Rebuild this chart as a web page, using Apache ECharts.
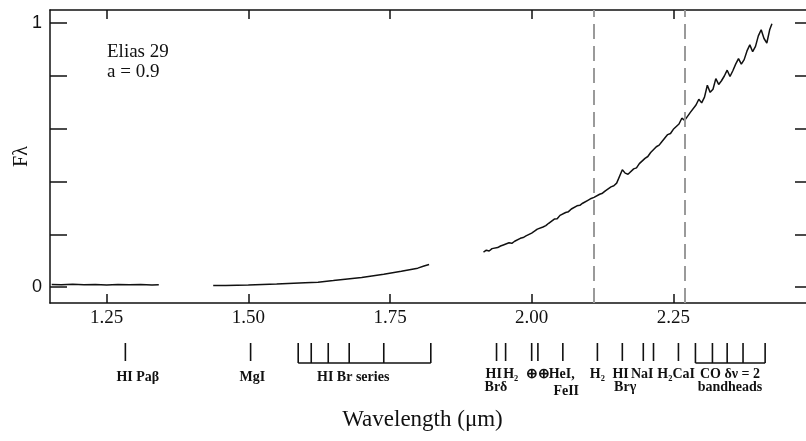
<!DOCTYPE html>
<html>
<head>
<meta charset="utf-8">
<script src="https://cdn.jsdelivr.net/npm/echarts@6/dist/echarts.min.js"></script>
<style>
html, body { margin: 0; padding: 0; background: #fff; }
#chart { width: 806px; height: 441px; }
</style>
</head>
<body>
<div id="chart"></div>
<script>
// spectrum, three pieces (gaps are the telluric bands)
var jWave = [1.153, 1.17, 1.19, 1.21, 1.23, 1.25, 1.27, 1.29, 1.31, 1.33, 1.342];
var jFlux = [0.010, 0.009, 0.011, 0.009, 0.010, 0.008, 0.010, 0.009, 0.010, 0.008, 0.009];

var hWave = [1.438, 1.46, 1.50, 1.55, 1.60, 1.623, 1.65, 1.70, 1.739, 1.77, 1.799, 1.81, 1.819];
var hFlux = [0.006, 0.006, 0.008, 0.012, 0.017, 0.019, 0.025, 0.037, 0.049, 0.060, 0.072, 0.080, 0.086];

var kWave = [1.915, 1.92, 1.925, 1.93, 1.94, 1.945, 1.95, 1.96, 1.965, 1.97, 1.98, 1.985, 1.99,
    2.00, 2.005, 2.01, 2.02, 2.025, 2.03, 2.04, 2.045, 2.05, 2.06, 2.065, 2.07, 2.08, 2.085,
    2.09, 2.10, 2.105, 2.11, 2.12, 2.125, 2.13, 2.14, 2.145, 2.15, 2.16, 2.165, 2.17, 2.18,
    2.185, 2.19, 2.20, 2.205, 2.21, 2.22, 2.225, 2.23, 2.24, 2.245, 2.25, 2.26, 2.265, 2.27,
    2.28, 2.29, 2.295, 2.30, 2.305, 2.31, 2.315, 2.32, 2.325, 2.33, 2.335, 2.34, 2.345, 2.35,
    2.355, 2.36, 2.365, 2.37, 2.375, 2.38, 2.385, 2.39, 2.395, 2.40, 2.405, 2.41, 2.415, 2.42, 2.424];
var kFlux = [0.133, 0.140, 0.137, 0.146, 0.150, 0.156, 0.160, 0.168, 0.166, 0.174, 0.185, 0.188,
    0.194, 0.205, 0.212, 0.220, 0.228, 0.233, 0.242, 0.258, 0.259, 0.272, 0.283, 0.286, 0.296,
    0.308, 0.310, 0.318, 0.330, 0.336, 0.340, 0.352, 0.356, 0.365, 0.380, 0.384, 0.394, 0.445,
    0.432, 0.428, 0.448, 0.452, 0.468, 0.488, 0.495, 0.510, 0.532, 0.538, 0.552, 0.578, 0.582,
    0.598, 0.618, 0.640, 0.632, 0.662, 0.690, 0.712, 0.698, 0.720, 0.765, 0.738, 0.750, 0.790,
    0.768, 0.782, 0.800, 0.822, 0.798, 0.820, 0.845, 0.866, 0.845, 0.862, 0.895, 0.918, 0.892,
    0.912, 0.952, 0.975, 0.942, 0.925, 0.975, 0.998];

var xTicks = [1.25, 1.50, 1.75, 2.00, 2.25];
var yTicks = [0, 0.2, 0.4, 0.6, 0.8, 1];
var yLabels = [0, 1];
var dashedLines = [2.114, 2.266];

// line identifications below the axis
var singleLines = [1.283, 1.504, 1.938, 1.954, 2.000, 2.011, 2.055, 2.116, 2.160, 2.197, 2.215, 2.259];
var brSeries = [1.588, 1.611, 1.641, 1.678, 1.739, 1.822];
var coBands = [2.289, 2.319, 2.345, 2.373, 2.412];
var lineNames = ['HI Paβ', 'MgI', 'HI Br series', 'HI', 'Brδ', 'H₂', '⊕⊕', 'HeI,', 'FeII',
    'H₂', 'HI', 'Brγ', 'NaI', 'H₂CaI', 'CO δν = 2', 'bandheads'];
var nameWave = [1.305, 1.507, 1.685, 1.933, 1.937, 1.963, 2.011, 2.053, 2.061,
    2.116, 2.157, 2.165, 2.195, 2.255, 2.350, 2.350];
var nameRow = [47, 47, 47, 44, 57, 44, 44, 44, 61, 44, 44, 57, 44, 44, 44, 57];

var ink = '#111';
var serif = 'Liberation Serif';

function pairs(w, f) {
    return w.map(function (v, i) { return [v, f[i]]; });
}

var tickGroups = [brSeries, coBands];
var nameData = lineNames.map(function (t, i) { return [nameWave[i], nameRow[i], t]; });

var myChart = echarts.init(document.getElementById('chart'));

var axisLine = { onZero: false, lineStyle: { color: ink, width: 1.5 } };

var option = {
    animation: false,
    backgroundColor: '#fff',
    grid: [
        { left: 50, right: -9, top: 10, bottom: 138, outerBoundsMode: 'none' },
        { left: 50, right: -9, top: 330, height: 70, outerBoundsMode: 'none' }
    ],
    graphic: [{
        type: 'text',
        left: 107,
        top: 42,
        style: {
            text: 'Elias 29\na = 0.9',
            font: '19px "Liberation Serif"',
            lineHeight: 20,
            fill: ink
        }
    }],
    xAxis: [
        {
            gridIndex: 0, type: 'value', min: 1.15, max: 2.5, position: 'bottom',
            axisLine: axisLine,
            axisTick: { inside: true, length: 9, customValues: xTicks, lineStyle: { color: ink, width: 1.5 } },
            axisLabel: {
                customValues: xTicks, margin: 6, color: ink, fontFamily: serif, fontSize: 19,
                formatter: function (v) { return v.toFixed(2); }
            },
            splitLine: { show: false },
            name: 'Wavelength (μm)', nameLocation: 'middle', nameGap: 105, nameMoveOverlap: false,
            nameTextStyle: { fontFamily: serif, fontSize: 23, color: ink, padding: [0, 20, 0, 0] }
        },
        {
            gridIndex: 0, type: 'value', min: 1.15, max: 2.5, position: 'top',
            axisLine: axisLine,
            axisTick: { inside: true, length: 9, customValues: xTicks, lineStyle: { color: ink, width: 1.5 } },
            axisLabel: { show: false },
            splitLine: { show: false }
        },
        { gridIndex: 1, type: 'value', min: 1.15, max: 2.5, show: false }
    ],
    yAxis: [
        {
            gridIndex: 0, type: 'value', min: -0.06, max: 1.05, position: 'left',
            axisLine: axisLine,
            axisTick: { inside: true, length: 17, customValues: yTicks, lineStyle: { color: ink, width: 1.5 } },
            axisLabel: {
                customValues: yLabels, margin: 8, color: ink, fontFamily: 'Liberation Sans',
                fontSize: 18, formatter: function (v) { return String(v); }
            },
            splitLine: { show: false },
            name: 'Fλ', nameLocation: 'middle', nameGap: 18, nameMoveOverlap: false,
            nameTextStyle: { fontFamily: serif, fontSize: 20, color: ink }
        },
        {
            gridIndex: 0, type: 'value', min: -0.06, max: 1.05, position: 'right',
            axisLine: axisLine,
            axisTick: { inside: true, length: 20, customValues: yTicks, lineStyle: { color: ink, width: 1.5 } },
            axisLabel: { show: false },
            splitLine: { show: false }
        },
        { gridIndex: 1, type: 'value', min: 0, max: 70, inverse: true, show: false }
    ],
    series: [
        {
            type: 'line', xAxisIndex: 0, yAxisIndex: 0, data: pairs(jWave, jFlux),
            showSymbol: false, lineStyle: { color: ink, width: 1.5 },
            markLine: {
                silent: true, symbol: 'none', label: { show: false },
                lineStyle: { color: '#9a9a9a', width: 2, type: [15, 7] },
                data: dashedLines.map(function (v) { return { xAxis: v }; })
            }
        },
        {
            type: 'line', xAxisIndex: 0, yAxisIndex: 0, data: pairs(hWave, hFlux),
            showSymbol: false, lineStyle: { color: ink, width: 1.5 }
        },
        {
            type: 'line', xAxisIndex: 0, yAxisIndex: 0, data: pairs(kWave, kFlux),
            showSymbol: false, lineStyle: { color: ink, width: 1.5 }
        },
        {
            // single identification ticks
            type: 'custom', xAxisIndex: 2, yAxisIndex: 2,
            data: singleLines.map(function (v) { return [v]; }),
            renderItem: function (params, api) {
                var a = api.coord([api.value(0), 13]);
                var b = api.coord([api.value(0), 31]);
                return {
                    type: 'line',
                    shape: { x1: a[0], y1: a[1], x2: b[0], y2: b[1] },
                    style: { stroke: ink, lineWidth: 1.6 }
                };
            }
        },
        {
            // bracketed series (Brackett, CO bandheads)
            type: 'custom', xAxisIndex: 2, yAxisIndex: 2,
            data: tickGroups.map(function (g) { return [g[0], g[g.length - 1]]; }),
            renderItem: function (params, api) {
                var g = tickGroups[params.dataIndex];
                var kids = g.map(function (v) {
                    var a = api.coord([v, 13]);
                    var b = api.coord([v, 33]);
                    return {
                        type: 'line',
                        shape: { x1: a[0], y1: a[1], x2: b[0], y2: b[1] },
                        style: { stroke: ink, lineWidth: 1.6 }
                    };
                });
                var l = api.coord([g[0], 33]);
                var r = api.coord([g[g.length - 1], 33]);
                kids.push({
                    type: 'line',
                    shape: { x1: l[0], y1: l[1], x2: r[0], y2: r[1] },
                    style: { stroke: ink, lineWidth: 1.6 }
                });
                return { type: 'group', children: kids };
            }
        },
        {
            type: 'scatter', xAxisIndex: 2, yAxisIndex: 2, data: nameData,
            symbolSize: 0, silent: true,
            itemStyle: { opacity: 1 },
            label: {
                show: true, position: 'inside', color: ink, opacity: 1,
                fontFamily: serif, fontWeight: 'bold', fontSize: 14,
                formatter: function (p) { return p.data[2]; }
            }
        }
    ]
};

myChart.setOption(option);
</script>
</body>
</html>
